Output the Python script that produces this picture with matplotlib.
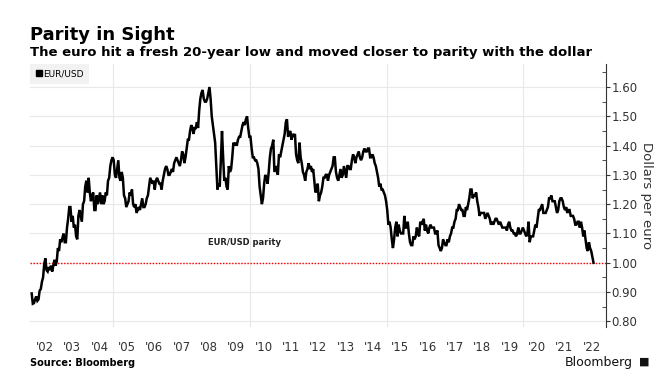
#!/usr/bin/env python3
"""EUR/USD parity chart, Bloomberg style."""

import matplotlib

matplotlib.use("Agg")

import matplotlib.pyplot as plt
import numpy as np
from matplotlib.lines import Line2D
from matplotlib.ticker import FixedLocator, MultipleLocator

# two readings per month (first half, second half), Jan 2002 .. Jul 2022
EURUSD_2002 = [0.895, 0.860, 0.862, 0.875, 0.885, 0.870, 0.875, 0.905, 0.910, 0.935, 0.950, 0.995,
               1.015, 0.975, 0.970, 0.985, 0.975, 0.990, 0.970, 0.990, 1.010, 0.990, 1.005, 1.050]
EURUSD_2003 = [1.040, 1.080, 1.070, 1.085, 1.100, 1.070, 1.070, 1.120, 1.150, 1.190, 1.190, 1.140,
               1.160, 1.120, 1.130, 1.090, 1.080, 1.160, 1.180, 1.160, 1.140, 1.200, 1.210, 1.260]
EURUSD_2004 = [1.280, 1.240, 1.290, 1.240, 1.210, 1.230, 1.240, 1.180, 1.180, 1.230, 1.200, 1.220,
               1.240, 1.200, 1.230, 1.200, 1.210, 1.240, 1.230, 1.280, 1.290, 1.330, 1.350, 1.360]
EURUSD_2005 = [1.350, 1.300, 1.290, 1.320, 1.350, 1.290, 1.280, 1.310, 1.290, 1.230, 1.220, 1.190,
               1.200, 1.210, 1.240, 1.230, 1.250, 1.200, 1.190, 1.200, 1.170, 1.180, 1.190, 1.180]
EURUSD_2006 = [1.200, 1.220, 1.190, 1.190, 1.200, 1.220, 1.230, 1.260, 1.290, 1.280, 1.270, 1.280,
               1.250, 1.280, 1.290, 1.280, 1.270, 1.270, 1.250, 1.280, 1.300, 1.320, 1.330, 1.320]
EURUSD_2007 = [1.300, 1.300, 1.310, 1.320, 1.310, 1.340, 1.350, 1.360, 1.350, 1.340, 1.330, 1.350,
               1.380, 1.370, 1.340, 1.360, 1.390, 1.420, 1.420, 1.450, 1.470, 1.460, 1.440, 1.460]
EURUSD_2008 = [1.460, 1.480, 1.460, 1.520, 1.560, 1.580, 1.590, 1.560, 1.550, 1.550, 1.560, 1.580,
               1.600, 1.560, 1.500, 1.470, 1.440, 1.410, 1.330, 1.250, 1.270, 1.260, 1.350, 1.450]
EURUSD_2009 = [1.360, 1.280, 1.290, 1.260, 1.250, 1.330, 1.310, 1.320, 1.360, 1.410, 1.400, 1.410,
               1.400, 1.420, 1.430, 1.430, 1.450, 1.470, 1.480, 1.470, 1.490, 1.500, 1.460, 1.430]
EURUSD_2010 = [1.430, 1.390, 1.360, 1.360, 1.350, 1.350, 1.340, 1.320, 1.260, 1.230, 1.200, 1.220,
               1.270, 1.300, 1.290, 1.270, 1.310, 1.360, 1.390, 1.400, 1.420, 1.310, 1.320, 1.330]
EURUSD_2011 = [1.300, 1.370, 1.360, 1.380, 1.400, 1.420, 1.440, 1.480, 1.490, 1.430, 1.440, 1.450,
               1.420, 1.440, 1.430, 1.440, 1.370, 1.350, 1.340, 1.410, 1.360, 1.340, 1.310, 1.300]
EURUSD_2012 = [1.280, 1.310, 1.320, 1.340, 1.320, 1.330, 1.310, 1.320, 1.280, 1.240, 1.250, 1.270,
               1.210, 1.230, 1.240, 1.260, 1.290, 1.290, 1.300, 1.300, 1.280, 1.300, 1.310, 1.320]
EURUSD_2013 = [1.330, 1.360, 1.360, 1.310, 1.290, 1.280, 1.300, 1.320, 1.290, 1.300, 1.330, 1.310,
               1.290, 1.330, 1.330, 1.320, 1.320, 1.350, 1.370, 1.360, 1.340, 1.360, 1.370, 1.380]
EURUSD_2014 = [1.360, 1.350, 1.360, 1.380, 1.390, 1.380, 1.380, 1.390, 1.390, 1.360, 1.360, 1.370,
               1.360, 1.340, 1.330, 1.310, 1.290, 1.260, 1.270, 1.250, 1.250, 1.240, 1.230, 1.210]
EURUSD_2015 = [1.180, 1.130, 1.140, 1.120, 1.080, 1.050, 1.080, 1.120, 1.140, 1.090, 1.130, 1.110,
               1.100, 1.100, 1.100, 1.160, 1.120, 1.120, 1.140, 1.100, 1.070, 1.060, 1.060, 1.090]
EURUSD_2016 = [1.080, 1.090, 1.120, 1.100, 1.090, 1.140, 1.130, 1.140, 1.150, 1.110, 1.130, 1.110,
               1.100, 1.120, 1.130, 1.120, 1.120, 1.120, 1.100, 1.100, 1.110, 1.060, 1.050, 1.040]
EURUSD_2017 = [1.050, 1.080, 1.070, 1.060, 1.060, 1.080, 1.070, 1.090, 1.100, 1.120, 1.120, 1.140,
               1.150, 1.180, 1.180, 1.200, 1.190, 1.180, 1.180, 1.160, 1.160, 1.190, 1.180, 1.200]
EURUSD_2018 = [1.220, 1.250, 1.250, 1.220, 1.230, 1.230, 1.240, 1.210, 1.190, 1.160, 1.170, 1.170,
               1.170, 1.170, 1.150, 1.160, 1.170, 1.160, 1.150, 1.130, 1.140, 1.130, 1.140, 1.150]
EURUSD_2019 = [1.150, 1.140, 1.130, 1.140, 1.130, 1.120, 1.120, 1.120, 1.120, 1.110, 1.130, 1.140,
               1.120, 1.110, 1.110, 1.100, 1.100, 1.090, 1.100, 1.120, 1.100, 1.100, 1.110, 1.120]
EURUSD_2020 = [1.110, 1.100, 1.090, 1.100, 1.140, 1.070, 1.090, 1.090, 1.090, 1.110, 1.130, 1.120,
               1.150, 1.180, 1.180, 1.190, 1.200, 1.170, 1.170, 1.170, 1.180, 1.190, 1.220, 1.220]
EURUSD_2021 = [1.230, 1.210, 1.210, 1.210, 1.190, 1.170, 1.180, 1.210, 1.220, 1.220, 1.210, 1.190,
               1.180, 1.190, 1.170, 1.180, 1.180, 1.160, 1.160, 1.160, 1.150, 1.130, 1.130, 1.140]
EURUSD_2022 = [1.140, 1.120, 1.140, 1.120, 1.090, 1.110, 1.080, 1.050, 1.040, 1.070, 1.050, 1.040,
               1.020, 1.000]

YEARS = list(range(2002, 2023))
YEAR_LABELS = ["'" + str(y)[2:] for y in YEARS]
Y_TICKS = [0.80, 0.90, 1.00, 1.10, 1.20, 1.30, 1.40, 1.50, 1.60]
V_GRID_YEARS = [2005, 2010, 2015, 2020]
PARITY = 1.00

values = np.array(
    EURUSD_2002 + EURUSD_2003 + EURUSD_2004 + EURUSD_2005 + EURUSD_2006 + EURUSD_2007
    + EURUSD_2008 + EURUSD_2009 + EURUSD_2010 + EURUSD_2011 + EURUSD_2012 + EURUSD_2013
    + EURUSD_2014 + EURUSD_2015 + EURUSD_2016 + EURUSD_2017 + EURUSD_2018 + EURUSD_2019
    + EURUSD_2020 + EURUSD_2021 + EURUSD_2022
)
# half-month steps from Jan 2002, expressed as fractional years
t = 2002 + (np.arange(len(values)) * 0.5 + 0.25) / 12

fig = plt.figure(figsize=(6.7, 3.89), dpi=100)
ax = fig.add_axes([0.0448, 0.159, 0.8597, 0.676])

ax.set_xlim(2001.96, 2023.02)
ax.set_ylim(0.78, 1.678)

for y in Y_TICKS:
    ax.axhline(y, color="#e8e8e8", linewidth=0.8, zorder=0)
for yr in V_GRID_YEARS:
    ax.axvline(yr, color="#e8e8e8", linewidth=0.8, zorder=0)

ax.axhline(PARITY, color="#ff0000", linewidth=1.0, linestyle=(0, (1, 1.2)), zorder=1)
ax.plot(t, values, color="black", linewidth=1.8, solid_joinstyle="miter", zorder=3)

ax.text(2008.47, 1.068, "EUR/USD parity", fontsize=6, fontweight="bold",
        color="#222222", ha="left", va="center")

# right-hand axis only
for side in ["left", "top", "bottom"]:
    ax.spines[side].set_visible(False)
ax.spines["right"].set_color("#333333")
ax.spines["right"].set_linewidth(0.8)
ax.yaxis.tick_right()
ax.yaxis.set_major_locator(FixedLocator(Y_TICKS))
ax.yaxis.set_minor_locator(MultipleLocator(0.05))
ax.set_yticklabels([f"{v:.2f}" for v in Y_TICKS])
ax.tick_params(axis="y", which="major", direction="out", length=3, width=0.8,
               color="#333333", labelsize=8.5, labelcolor="#333333", pad=1)
ax.tick_params(axis="y", which="minor", direction="in", length=3, width=0.6, color="#333333")
ax.yaxis.set_label_position("right")
ax.set_ylabel("Dollars per euro", rotation=270, fontsize=9.5, color="#333333", labelpad=11)

ax.set_xticks([y + 0.5 for y in YEARS])
ax.set_xticklabels(YEAR_LABELS)
ax.tick_params(axis="x", length=0, labelsize=8.5, labelcolor="#333333", pad=10)

handle = Line2D([], [], marker="s", color="black", linestyle="none", markersize=4.5)
leg = ax.legend([handle], ["EUR/USD"], loc="upper left", bbox_to_anchor=(0, 1.0),
                fontsize=6.5, frameon=True, fancybox=False, borderaxespad=0,
                handletextpad=0.1, handlelength=0.8, borderpad=0.6)
leg.get_frame().set_facecolor("#efefef")
leg.get_frame().set_edgecolor("none")
leg.set_zorder(5)

fig.text(30 / 670, 1 - 40 / 389, "Parity in Sight", fontsize=13, fontweight="bold",
         color="black", ha="left", va="baseline")
fig.text(30 / 670, 1 - 56 / 389,
         "The euro hit a fresh 20-year low and moved closer to parity with the dollar",
         fontsize=9.5, fontweight="bold", color="black", ha="left", va="baseline")
fig.text(30 / 670, 1 - 366 / 389, "Source: Bloomberg", fontsize=7, fontweight="bold",
         color="black", ha="left", va="baseline")
fig.text(633 / 670, 1 - 366 / 389, "Bloomberg", fontsize=9, color="#111111",
         ha="right", va="baseline")
fig.text(644 / 670, 1 - 362 / 389, "\u25a0", fontsize=8, color="#111111",
         ha="center", va="center")

fig.savefig("out.png", dpi=100)
